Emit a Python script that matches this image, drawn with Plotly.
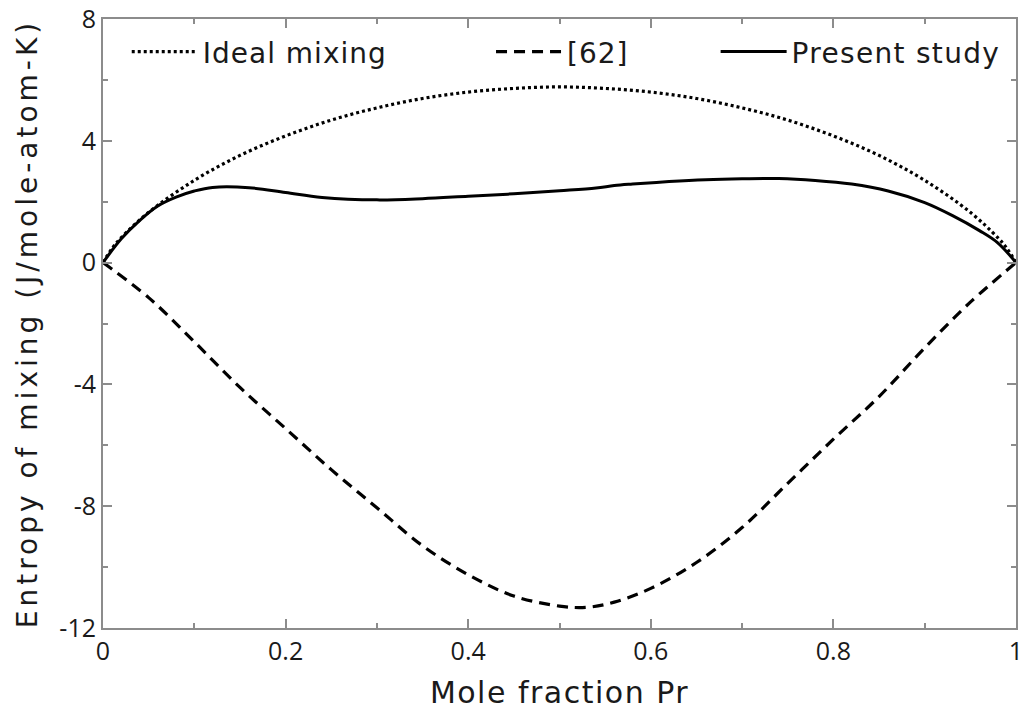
import plotly.graph_objects as go

# Mole fraction Pr
x_ideal = [0, 0.01, 0.02, 0.05, 0.10, 0.15, 0.20, 0.25, 0.30, 0.35, 0.40, 0.45, 0.50,
           0.55, 0.60, 0.65, 0.70, 0.75, 0.80, 0.85, 0.90, 0.95, 0.98, 0.99, 1.0]
y_ideal = [0, 0.47, 0.82, 1.65, 2.70, 3.52, 4.16, 4.68, 5.08, 5.39, 5.60, 5.72, 5.77,
           5.72, 5.60, 5.39, 5.08, 4.68, 4.16, 3.52, 2.70, 1.65, 0.82, 0.47, 0]

x_ref62 = [0, 0.05, 0.10, 0.15, 0.20, 0.25, 0.30, 0.35, 0.40, 0.45, 0.50, 0.53, 0.56,
           0.60, 0.65, 0.70, 0.75, 0.80, 0.85, 0.90, 0.95, 1.0]
y_ref62 = [0, -1.15, -2.6, -4.1, -5.45, -6.8, -8.05, -9.3, -10.25, -10.95, -11.28, -11.32, -11.15,
           -10.7, -9.85, -8.7, -7.25, -5.8, -4.4, -2.8, -1.3, 0]

x_present = [0, 0.02, 0.04, 0.06, 0.08, 0.10, 0.12, 0.16, 0.20, 0.24, 0.30, 0.35, 0.40,
             0.45, 0.50, 0.54, 0.56, 0.58, 0.62, 0.66, 0.70, 0.74, 0.78, 0.82, 0.86,
             0.90, 0.93, 0.96, 0.98, 1.0]
y_present = [0, 0.78, 1.38, 1.86, 2.15, 2.35, 2.47, 2.46, 2.3, 2.14, 2.06, 2.1, 2.18,
             2.26, 2.36, 2.45, 2.53, 2.58, 2.66, 2.72, 2.75, 2.76, 2.7, 2.58, 2.35,
             1.97, 1.55, 1.05, 0.65, 0]

x_ticks = [0, 0.2, 0.4, 0.6, 0.8, 1]
x_ticklabels = ["0", "0.2", "0.4", "0.6", "0.8", "1"]
y_ticks = [8, 4, 0, -4, -8, -12]
y_ticklabels = ["8", "4", "0", "-4", "-8", "-12"]

TFONT = "DejaVu Sans"
NFONT = "Open Sans"
TXT = "#1a1a1a"
AX = "#8c8c8c"


def spaced(text, px):
    return '<span style="letter-spacing:%spx">%s</span>' % (px, text)


fig = go.Figure()
fig.add_trace(go.Scatter(x=x_ideal, y=y_ideal, mode="lines", name=spaced("Ideal mixing", 1),
                         line=dict(color="black", width=3.2, dash="3px,3px", shape="spline"),
                         legend="legend"))
fig.add_trace(go.Scatter(x=x_ref62, y=y_ref62, mode="lines", name=spaced("[62]", 1),
                         line=dict(color="black", width=3.2, dash="11px,7px", shape="spline"),
                         legend="legend2"))
fig.add_trace(go.Scatter(x=x_present, y=y_present, mode="lines", name=spaced("Present study", 1.3),
                         line=dict(color="black", width=3, shape="spline"),
                         legend="legend3"))

leg_common = dict(orientation="h", yanchor="middle", y=0.946, xanchor="left",
                  bgcolor="rgba(0,0,0,0)", borderwidth=0,
                  font=dict(family=TFONT, size=28, color=TXT), itemwidth=66)

fig.update_layout(
    width=1019, height=712,
    margin=dict(l=103, r=3, t=19, b=84, autoexpand=False),
    paper_bgcolor="white", plot_bgcolor="white",
    font=dict(family=NFONT, size=25, color=TXT),
    showlegend=True,
    legend=dict(leg_common, x=0.026),
    legend2=dict(leg_common, x=0.425),
    legend3=dict(leg_common, x=0.671),
    xaxis=dict(range=[0, 1], tickvals=x_ticks, ticktext=x_ticklabels, automargin=False,
               ticks="inside", ticklen=9, tickwidth=1.5, tickcolor=AX,
               showline=True, linecolor=AX, linewidth=2, mirror="ticks",
               showgrid=False, zeroline=False, ticklabeloverflow="allow",
               minor=dict(dtick=0.1, tick0=0, ticks="inside", ticklen=5, tickwidth=1.5, tickcolor=AX),
               tickfont=dict(family=NFONT, size=25, color=TXT),
               title=dict(text=spaced("Mole fraction Pr", 1.5),
                          font=dict(family=TFONT, size=30, color=TXT), standoff=16)),
    yaxis=dict(range=[-12, 8], tickvals=y_ticks, ticktext=y_ticklabels, automargin=False,
               ticks="inside", ticklen=9, tickwidth=1.5, tickcolor=AX,
               showline=True, linecolor=AX, linewidth=2, mirror="ticks",
               showgrid=False, zeroline=False, ticklabeloverflow="allow",
               minor=dict(dtick=2, tick0=0, ticks="inside", ticklen=5, tickwidth=1.5, tickcolor=AX),
               tickfont=dict(family=NFONT, size=25, color=TXT),
               title=dict(text=spaced("Entropy of mixing (J/mole-atom-K)", 4),
                          font=dict(family=TFONT, size=28, color=TXT), standoff=14)),
)

# remove the default page margin so the 1019x712 figure fills the window exactly
fig.write_html(
    "out.html",
    config={"displayModeBar": False},
    post_script="document.body.style.margin='0px';"
                "document.body.style.overflow='hidden';"
                "document.documentElement.style.overflow='hidden';",
)
